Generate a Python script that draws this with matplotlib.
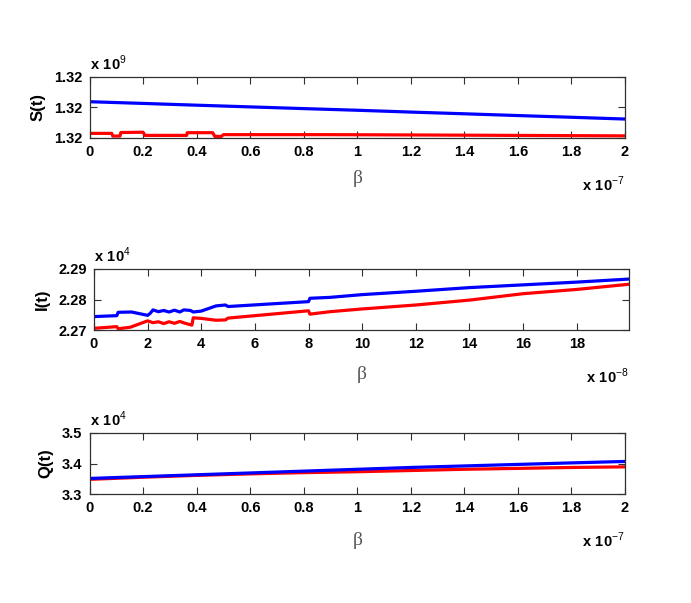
import matplotlib
matplotlib.use("Agg")
import matplotlib.pyplot as plt
from matplotlib.ticker import FormatStrFormatter

plt.rcParams['font.family'] = ['Liberation Sans', 'DejaVu Sans']
plt.rcParams['mathtext.fontset'] = 'custom'
plt.rcParams['mathtext.rm'] = 'Liberation Sans'
plt.rcParams['mathtext.bf'] = 'Liberation Sans:bold'

# ---------------- data (beta scaled by axis multipliers) ----------------
# S(t) panel, beta in units of 1e-7, S in units of 1e9
s_blue_x = [0, 0.2, 0.4, 0.6, 0.8, 1.0, 1.2, 1.4, 1.6, 1.8, 2.0]
s_blue_y = [1.320018, 1.3200124, 1.3200066, 1.320001, 1.3199954, 1.31999,
            1.319984, 1.3199784, 1.3199726, 1.319967, 1.3199612]
s_red_x = [0, 0.083, 0.087, 0.114, 0.117, 0.2, 0.207, 0.363, 0.365, 0.46,
           0.468, 0.493, 0.5, 0.9, 1.2, 1.6, 2.0]
s_red_y = [1.3199142, 1.3199142, 1.3199054, 1.3199054, 1.319917, 1.319918,
           1.3199076, 1.3199076, 1.3199164, 1.3199164, 1.3199044, 1.3199044,
           1.319910, 1.319910, 1.319909, 1.3199075, 1.319906]

# I(t) panel, beta in units of 1e-8, I in units of 1e4
i_blue_x = [0, 0.85, 0.9, 1.4, 2.0, 2.1, 2.2, 2.4, 2.6, 2.8, 3.0, 3.2, 3.35,
            3.6, 3.7, 4.0, 4.55, 4.9, 5.0, 8.0, 8.05, 8.8, 10, 12, 14, 16, 18, 19.95]
i_blue_y = [2.2744, 2.2747, 2.2758, 2.2759, 2.2748, 2.2755, 2.2766, 2.2760,
            2.2764, 2.2759, 2.2765, 2.2759, 2.2766, 2.2764, 2.2759, 2.2762,
            2.2779, 2.2782, 2.2777, 2.2793, 2.2804, 2.2807, 2.2816, 2.2827,
            2.2839, 2.2848, 2.2857, 2.2867]
i_red_x = [0, 0.85, 0.9, 1.35, 2.0, 2.2, 2.4, 2.6, 2.8, 3.0, 3.2, 3.4, 3.65,
           3.7, 4.0, 4.55, 4.9, 5.0, 8.0, 8.05, 8.8, 10, 12, 14, 16, 18, 19.95]
i_red_y = [2.27055, 2.2711, 2.2704, 2.2709, 2.2730, 2.2724, 2.2727, 2.2721,
           2.2727, 2.2722, 2.2728, 2.2722, 2.2716, 2.2740, 2.2738, 2.2732,
           2.2733, 2.2739, 2.2763, 2.2752, 2.2760, 2.2769, 2.2782, 2.2798,
           2.2819, 2.2833, 2.2850]

# Q(t) panel, beta in units of 1e-7, Q in units of 1e4
q_x = [0, 0.2, 0.4, 0.6, 0.8, 1.0, 1.2, 1.4, 1.6, 1.8, 2.0]
q_blue = [3.351, 3.357, 3.363, 3.369, 3.375, 3.381, 3.387, 3.392, 3.397, 3.402, 3.4067]
q_red = [3.348, 3.355, 3.361, 3.366, 3.370, 3.373, 3.377, 3.381, 3.384, 3.387, 3.389]

s_ticks = [1.3199, 1.3200, 1.3201]
i_ticks = [2.27, 2.28, 2.29]
q_ticks = [3.3, 3.4, 3.5]
x7_ticks = [0, 0.2, 0.4, 0.6, 0.8, 1, 1.2, 1.4, 1.6, 1.8, 2]
x8_ticks = [0, 2, 4, 6, 8, 10, 12, 14, 16, 18]

W, H = 691, 603
fig = plt.figure(figsize=(W / 100, H / 100), dpi=100)

def make_ax(left, top, right, bottom):
    return fig.add_axes([left / W, 1 - bottom / H, (right - left) / W, (bottom - top) / H])

ax1 = make_ax(89.5, 76.7, 625, 137.7)
ax2 = make_ax(94, 269, 629, 330)
ax3 = make_ax(89.5, 433, 625, 494)

BLUE = '#0000FF'
RED = '#FF0000'
lw = 2.3

ax1.plot(s_red_x, s_red_y, color=RED, lw=lw)
ax1.plot(s_blue_x, s_blue_y, color=BLUE, lw=lw)
ax1.set_xlim(0, 2)
ax1.set_ylim(1.3199, 1.3201)
ax1.set_xticks(x7_ticks)
ax1.set_yticks(s_ticks)
ax1.yaxis.set_major_formatter(FormatStrFormatter('%.2f'))
ax1.xaxis.set_major_formatter(FormatStrFormatter('%g'))

ax2.plot(i_red_x, i_red_y, color=RED, lw=lw)
ax2.plot(i_blue_x, i_blue_y, color=BLUE, lw=lw)
ax2.set_xlim(0, 19.95)
ax2.set_ylim(2.27, 2.29)
ax2.set_xticks(x8_ticks)
ax2.set_yticks(i_ticks)
ax2.yaxis.set_major_formatter(FormatStrFormatter('%.2f'))

ax3.plot(q_x, q_red, color=RED, lw=lw)
ax3.plot(q_x, q_blue, color=BLUE, lw=lw)
ax3.set_xlim(0, 2)
ax3.set_ylim(3.3, 3.5)
ax3.set_xticks(x7_ticks)
ax3.set_yticks(q_ticks)
ax3.yaxis.set_major_formatter(FormatStrFormatter('%.1f'))
ax3.xaxis.set_major_formatter(FormatStrFormatter('%g'))

for ax, ylab, top_exp, bot_exp, lp in [(ax1, 'S(t)', '9', '-7', 8),
                                       (ax2, 'I(t)', '4', '-8', 11),
                                       (ax3, 'Q(t)', '4', '-7', 12)]:
    for sp in ax.spines.values():
        sp.set_color('#303030')
        sp.set_linewidth(0.9)
    ax.tick_params(direction='in', length=5, width=0.8, top=True, right=True,
                   color='#303030', labelsize=10.5, pad=5)
    for lab in ax.get_xticklabels() + ax.get_yticklabels():
        lab.set_fontweight('bold')
    ax.set_ylabel(ylab, fontsize=12, fontweight='bold', labelpad=6)
    ax.set_xlabel('β', fontsize=14, color='#555555', family='Liberation Serif', labelpad=lp)
    ax.text(0.0, 1.06, r'$\mathbf{x\ 10}^{' + top_exp + '}$', transform=ax.transAxes,
            ha='left', va='bottom', fontsize=10.5)
    ax.text(1.0, -0.60, r'$\mathbf{x\ 10}^{' + bot_exp.replace('-', '\u2212') + '}$',
            transform=ax.transAxes, ha='right', va='top', fontsize=10.5)

fig.savefig('out.png', dpi=100)
